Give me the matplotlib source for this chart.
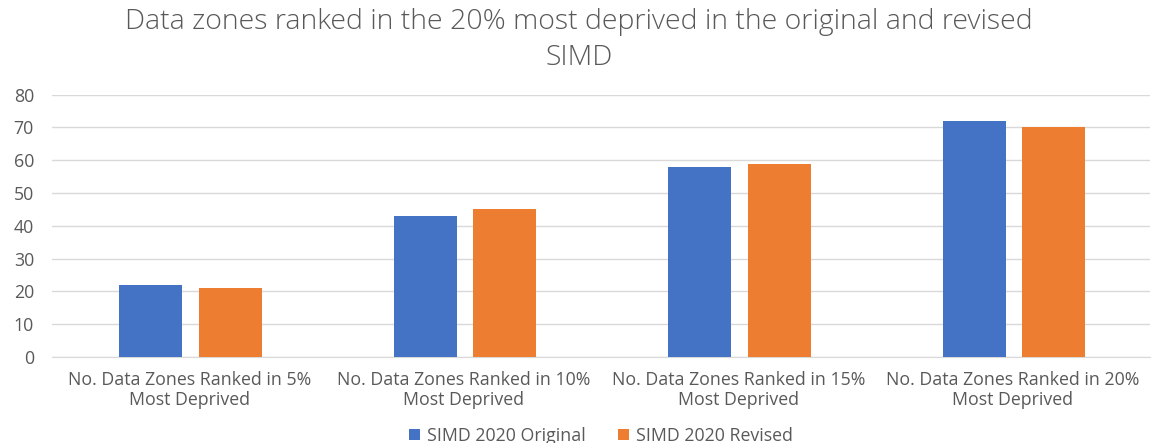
import matplotlib
matplotlib.use("Agg")
import matplotlib.pyplot as plt
import numpy as np

categories = ["No. Data Zones Ranked in 5%\nMost Deprived",
              "No. Data Zones Ranked in 10%\nMost Deprived",
              "No. Data Zones Ranked in 15%\nMost Deprived",
              "No. Data Zones Ranked in 20%\nMost Deprived"]
original = [22, 43, 58, 72]
revised = [21, 45, 59, 70]
series_names = ["SIMD 2020 Original", "SIMD 2020 Revised"]
yticks = [0, 10, 20, 30, 40, 50, 60, 70, 80]

plt.rcParams['font.family'] = ['Open Sans', 'DejaVu Sans']
txt = '#595959'

fig = plt.figure(figsize=(11.58, 4.43), dpi=100)
ax = fig.add_axes([52/1158, 1-357/443, (1150-52)/1158, (357-94.7)/443])

x = np.arange(len(categories))
w = 0.23
ax.bar(x - 0.14, original, w, color='#4472C4', label=series_names[0], zorder=3)
ax.bar(x + 0.15, revised, w, color='#ED7D31', label=series_names[1], zorder=3)

ax.set_xlim(-0.5, len(categories) - 0.5)
ax.set_ylim(0, 80)
ax.set_yticks(yticks)
ax.set_xticks(x)
ax.set_xticklabels(categories, color=txt, fontsize=12.8, linespacing=1.15)
ax.tick_params(axis='y', colors=txt, labelsize=12.8, length=0, pad=13)
ax.tick_params(axis='x', length=0, pad=10)
ax.grid(axis='y', color='#D9D9D9', linewidth=1, zorder=0)
for s in ['top', 'right', 'left']:
    ax.spines[s].set_visible(False)
ax.spines['bottom'].set_color('#D9D9D9')

fig.text(0.5, 1-40/443, "Data zones ranked in the 20% most deprived in the original and revised\nSIMD",
         ha='center', va='center', fontsize=20.5, color=txt, linespacing=1.35,
         fontweight='light')

leg = ax.legend(loc='center', bbox_to_anchor=(0.5, (357-436)/(357-94.7)), ncol=2,
                frameon=False, fontsize=12.8, handlelength=0.6, handleheight=0.6,
                columnspacing=1.8, handletextpad=0.4, bbox_transform=ax.transAxes)
for t in leg.get_texts():
    t.set_color(txt)

fig.savefig("out.png", dpi=100)
